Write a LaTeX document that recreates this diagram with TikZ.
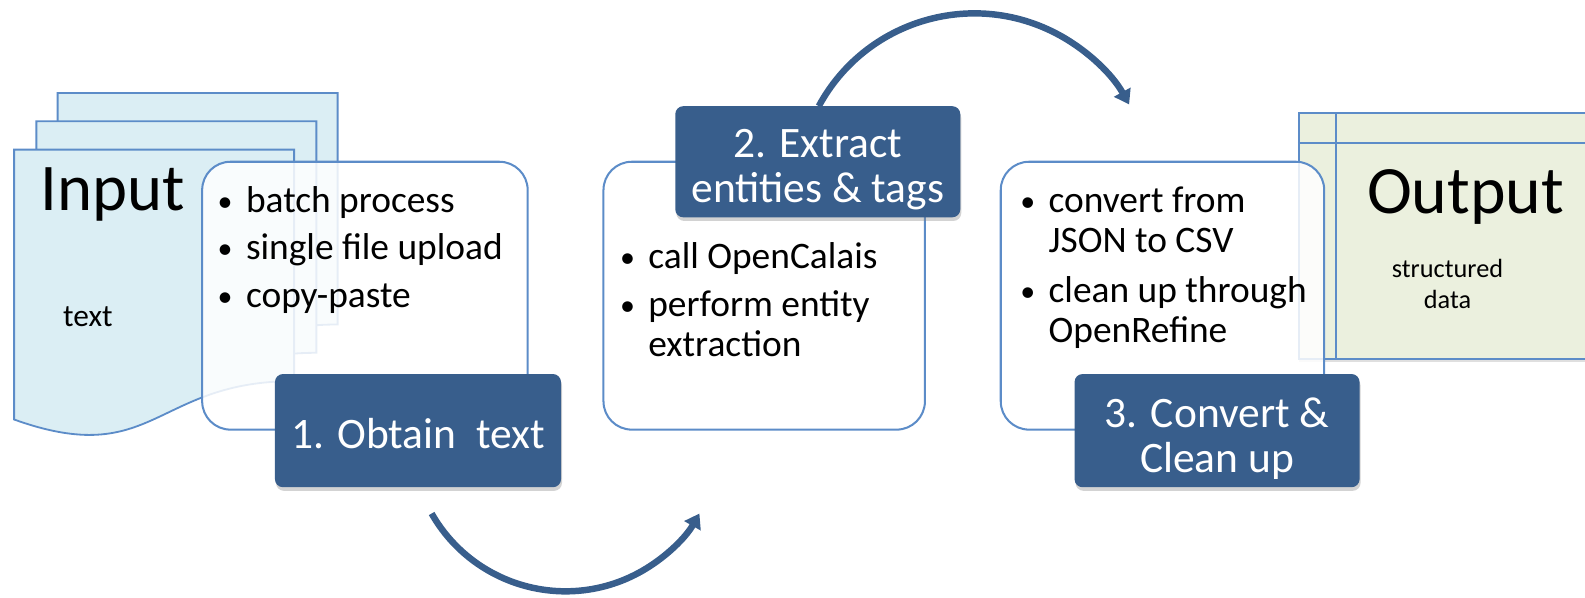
\documentclass[tikz,border=0pt]{standalone}
\usepackage{fontspec}
\setmainfont{Carlito}
\usetikzlibrary{arrows.meta,shadows,calc}

\definecolor{stepblue}{RGB}{56,94,140}
\definecolor{edgeblue}{RGB}{92,140,200}
\definecolor{pagefill}{RGB}{219,238,244}
\definecolor{tablefill}{RGB}{235,240,222}

\newcommand{\blt}{\makebox[14pt][l]{\raisebox{0.6pt}{\scalebox{0.8}{\textbullet}}}}
\newcommand{\bindent}{\hspace*{14pt}}

\begin{document}
\begin{tikzpicture}[x=0.5pt,y=-0.5pt,
  listbox/.style={draw=edgeblue, line width=1pt, fill=white, fill opacity=0.85,
    draw opacity=1, text opacity=1, rounded corners=14pt, inner sep=0pt},
  stepbox/.style={fill=stepblue, rounded corners=4pt, inner sep=0pt,
    drop shadow={opacity=0.35, shadow xshift=0.5pt, shadow yshift=-1.8pt}},
  steplabel/.style={text=white, align=center, inner sep=0pt,
    font=\fontsize{21.5}{22.5}\selectfont},
  bullets/.style={anchor=base west, inner sep=0pt, font=\fontsize{18.5}{20}\selectfont},
  sheet/.style={draw=edgeblue, line width=0.9pt, fill=pagefill},
  flow/.style={draw=stepblue, line width=3.2pt, -{Triangle[length=7pt,width=9pt]}},
  docpage/.pic={
    \draw[sheet] (0,0) -- (277,0) -- (277,229)
      .. controls (138.5,229) and (138.5,316.7) .. (0,267) -- cycle;
  },
]
\useasboundingbox (0,0) rectangle (1568,591);
\clip (0,0) rectangle (1568,591);

% stack of input pages
\pic (pageback) at (57,92) {docpage};
\pic (pagemid) at (36,120) {docpage};
\pic (pagefront) at (14,148) {docpage};
\node[font=\fontsize{33}{33}\selectfont, anchor=base west, inner sep=0pt] (intitle) at (40,208) {Input};
\node[font=\fontsize{15.5}{16}\selectfont] (intext) at (87,313) {text};

% output table
\node[draw=edgeblue, line width=1pt, fill=tablefill, minimum width=157.5pt,
  minimum height=121.5pt, inner sep=0pt,
  drop shadow={opacity=0.25, shadow xshift=0pt, shadow yshift=-1.5pt}] (outtab) at (1442.5,233.5) {};
\draw[edgeblue, line width=1pt] ($(outtab.north west)+(38,0)$) -- ($(outtab.south west)+(38,0)$);
\draw[edgeblue, line width=1pt] ($(outtab.north west)+(0,30)$) -- ($(outtab.north east)+(0,30)$);
\node[font=\fontsize{33.5}{33.5}\selectfont, anchor=base west, inner sep=0pt] (outtitle) at (1352,211) {Output};
\node[font=\fontsize{13}{15.5}\selectfont, align=center] (outtext) at (1432,281) {structured\\data};

% step 1
\node[listbox, minimum width=161pt, minimum height=132.5pt] (list1) at (361,292.5) {};
\node[bullets] (items1) at (215,210) {\begin{tabular}[t]{@{}l@{}}
  \blt batch process\\[3.5pt]
  \blt single file upload\\[3.5pt]
  \blt copy-paste
\end{tabular}};
\node[stepbox, minimum width=141.5pt, minimum height=56pt] (step1) at (413.5,426) {};
\node[steplabel] (step1text) at ($(step1.center)+(0,3)$) {1. Obtain~ text};

% step 2
\node[listbox, minimum width=159pt, minimum height=132.5pt] (list2) at (756,292.5) {};
\node[bullets] (items2) at (613,266) {\begin{tabular}[t]{@{}l@{}}
  \blt call OpenCalais\\[3.5pt]
  \blt perform entity\\
  \bindent extraction
\end{tabular}};
\node[stepbox, minimum width=141pt, minimum height=55pt] (step2) at (809,160) {};
\node[steplabel] (step2text) at ($(step2.center)+(0,8)$) {2. Extract\\entities \& tags};

% step 3
\node[listbox, minimum width=160pt, minimum height=132.5pt] (list3) at (1150,292.5) {};
\node[bullets] (items3) at (1009,210) {\begin{tabular}[t]{@{}l@{}}
  \blt convert from\\
  \bindent JSON to CSV\\[4.5pt]
  \blt clean up through\\
  \bindent OpenRefine
\end{tabular}};
\node[stepbox, minimum width=141pt, minimum height=56pt] (step3) at (1204,426) {};
\node[steplabel] (step3text) at ($(step3.center)+(0,8)$) {3. Convert \&\\Clean up};

% curved arrows between the steps
\coordinate (loopAstart) at (427,508);
\coordinate (loopBstart) at (810,105);
\draw[flow] (loopAstart) arc[start angle=150.3, end angle=29.7, radius=152.5];
\draw[flow] (loopBstart) arc[start angle=208.4, end angle=331, radius=175];
\end{tikzpicture}
\end{document}
